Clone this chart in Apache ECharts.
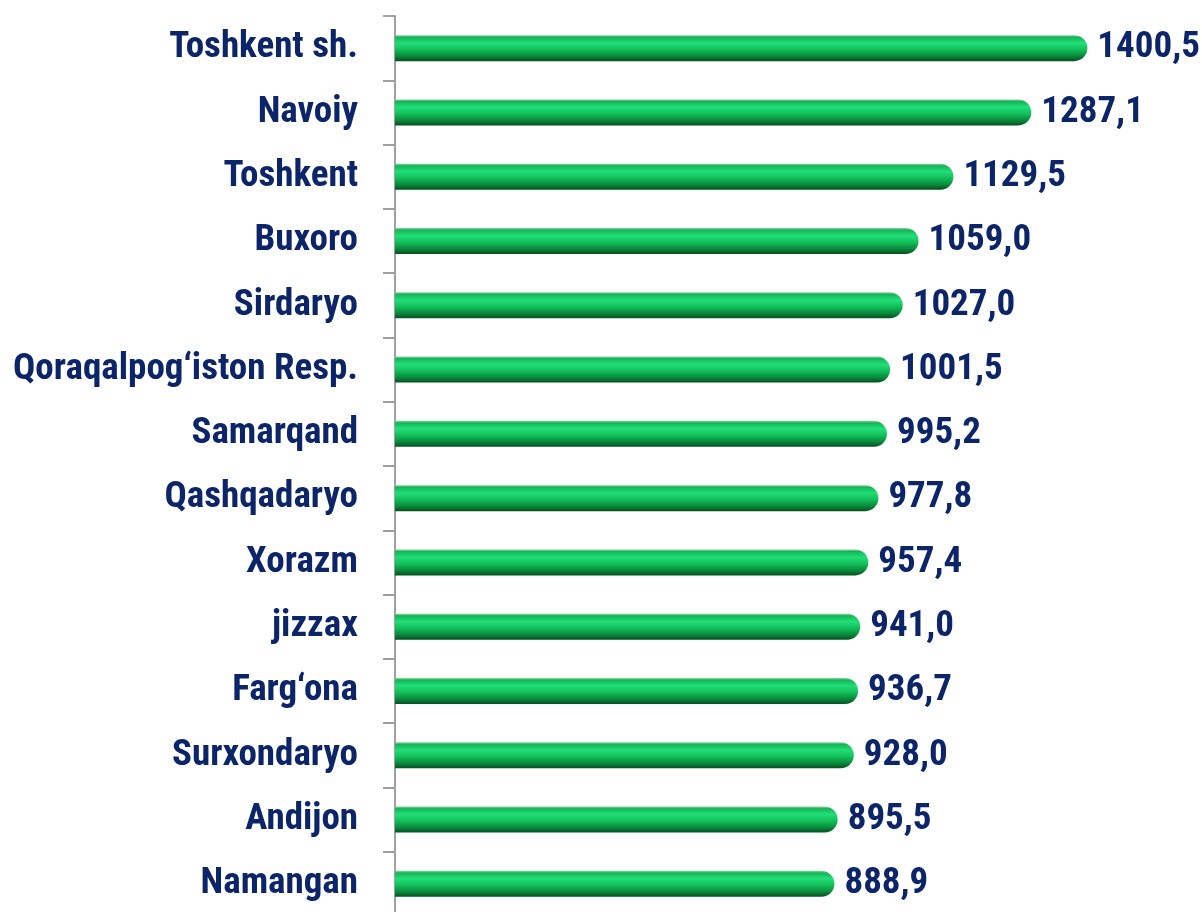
<!DOCTYPE html>
<html><head><meta charset="utf-8">
<script src="https://cdn.jsdelivr.net/npm/echarts@6/dist/echarts.min.js"></script>
<style>html,body{margin:0;padding:0;background:#fff}#c{width:1202px;height:912px}</style>
</head><body><div id="c"></div>
<script>
const categories = ["Toshkent sh.","Navoiy","Toshkent","Buxoro","Sirdaryo","Qoraqalpog‘iston Resp.","Samarqand","Qashqadaryo","Xorazm","jizzax","Farg‘ona","Surxondaryo","Andijon","Namangan"];
const values = [1400.5,1287.1,1129.5,1059.0,1027.0,1001.5,995.2,977.8,957.4,941.0,936.7,928.0,895.5,888.9];
const FONT = '"Liberation Sans Narrow", "Roboto Condensed", Roboto, sans-serif';
const chart = echarts.init(document.getElementById('c'));
chart.setOption({
  animation:false,
  grid:{left:395, top:16, width:791, height:900, outerBoundsMode:'none', containLabel:false},
  xAxis:{type:'value', min:0, max:1600, show:false},
  yAxis:{type:'category', data:categories, inverse:true,
    axisLine:{show:true, lineStyle:{color:'#a0a0a0', width:2}},
    axisTick:{show:true, length:12, lineStyle:{color:'#a0a0a0', width:2}},
    axisLabel:{margin:37, color:'#0c2568', fontFamily:FONT, fontWeight:'bold', fontSize:37}
  },
  series:[{type:'bar', data:values, barWidth:26,
    itemStyle:{borderRadius:[0,13,13,0],
      color:new echarts.graphic.LinearGradient(0,0,0,1,[
        {offset:0,color:'#8fd3a6'},{offset:0.08,color:'#14b455'},{offset:0.3,color:'#22de78'},
        {offset:0.55,color:'#12bf5a'},{offset:0.8,color:'#0a8a3c'},{offset:1,color:'#05501f'}])},
    label:{show:true, position:'right', distance:10, color:'#0c2568', fontFamily:FONT, fontWeight:'bold', fontSize:37,
      formatter:p=>p.value.toFixed(1).replace('.',',')}
  }]
});
</script></body></html>
